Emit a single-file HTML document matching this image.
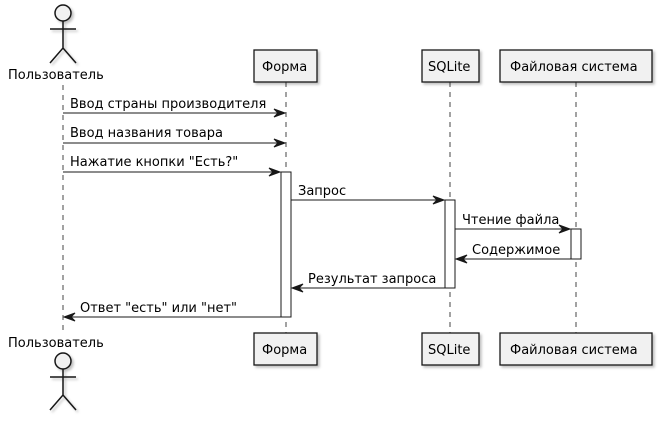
<!DOCTYPE html>
<html><head><meta charset="utf-8"><style>
html,body{margin:0;padding:0;background:#fff;}
svg{display:block}
text{font-family:"DejaVu Sans",sans-serif;font-size:13px;fill:#000}
</style></head><body>
<svg width="661" height="421" viewBox="0 0 661 421" xmlns="http://www.w3.org/2000/svg">
<defs>
<filter id="sh" x="-10%" y="-10%" width="130%" height="140%"><feDropShadow dx="2" dy="2" stdDeviation="1.2" flood-color="#000" flood-opacity="0.25"/></filter>
</defs>
<g stroke="#181818" stroke-width="0.8" stroke-dasharray="5,5" fill="none">
<line x1="63" y1="85" x2="63" y2="333"/>
<line x1="286" y1="82" x2="286" y2="333"/>
<line x1="450" y1="82" x2="450" y2="333"/>
<line x1="576" y1="82" x2="576" y2="333"/>
</g>
<g fill="#fff" stroke="#181818" stroke-width="1">
<rect x="281" y="172" width="10" height="145"/>
<rect x="445" y="200" width="10" height="88"/>
<rect x="571" y="229" width="10" height="30"/>
</g>
<g fill="#f1f1f1" stroke="#181818" stroke-width="1.3" filter="url(#sh)">
<rect x="254" y="50" width="63" height="32"/>
<rect x="422" y="50" width="57" height="32"/>
<rect x="500" y="50" width="152" height="32"/>
<rect x="254" y="333" width="63" height="32"/>
<rect x="422" y="333" width="57" height="32"/>
<rect x="500" y="333" width="152" height="32"/>
</g>
<text x="262" y="71">Форма</text>
<text x="428" y="71">SQLite</text>
<text x="510" y="71">Файловая система</text>
<text x="262" y="354">Форма</text>
<text x="428" y="354">SQLite</text>
<text x="510" y="354">Файловая система</text>
<g fill="#f1f1f1" stroke="#181818" stroke-width="1.5" filter="url(#sh)">
<circle cx="63" cy="13" r="8"/>
<path d="M63 21 V48 M50 29 H76 M50 63 L63 48 L76 63" fill="none"/>
<circle cx="63" cy="361" r="8"/>
<path d="M63 369 V395 M50 377 H76 M50 410 L63 395 L76 410" fill="none"/>
</g>
<text x="8" y="79">Пользователь</text>
<text x="8" y="347">Пользователь</text>
<g stroke="#181818" stroke-width="1" fill="#181818">
<line x1="63" y1="113" x2="284" y2="113"/><polygon points="274,109 285,113 274,117 278,113"/>
<line x1="63" y1="143" x2="284" y2="143"/><polygon points="274,139 285,143 274,147 278,143"/>
<line x1="63" y1="172" x2="279" y2="172"/><polygon points="269,168 280,172 269,176 273,172"/>
<line x1="291" y1="200" x2="443" y2="200"/><polygon points="433,196 444,200 433,204 437,200"/>
<line x1="455" y1="229" x2="569" y2="229"/><polygon points="559,225 570,229 559,233 563,229"/>
<line x1="457" y1="259" x2="571" y2="259"/><polygon points="467,255 456,259 467,263 463,259"/>
<line x1="293" y1="288" x2="445" y2="288"/><polygon points="303,284 292,288 303,292 299,288"/>
<line x1="65" y1="317" x2="281" y2="317"/><polygon points="75,313 64,317 75,321 71,317"/>
</g>
<text x="70" y="108">Ввод страны производителя</text>
<text x="70" y="137">Ввод названия товара</text>
<text x="70" y="166">Нажатие кнопки "Есть?"</text>
<text x="298" y="195">Запрос</text>
<text x="462" y="224">Чтение файла</text>
<text x="472" y="254">Содержимое</text>
<text x="308" y="283">Результат запроса</text>
<text x="80" y="312">Ответ "есть" или "нет"</text>
</svg>
</body></html>
